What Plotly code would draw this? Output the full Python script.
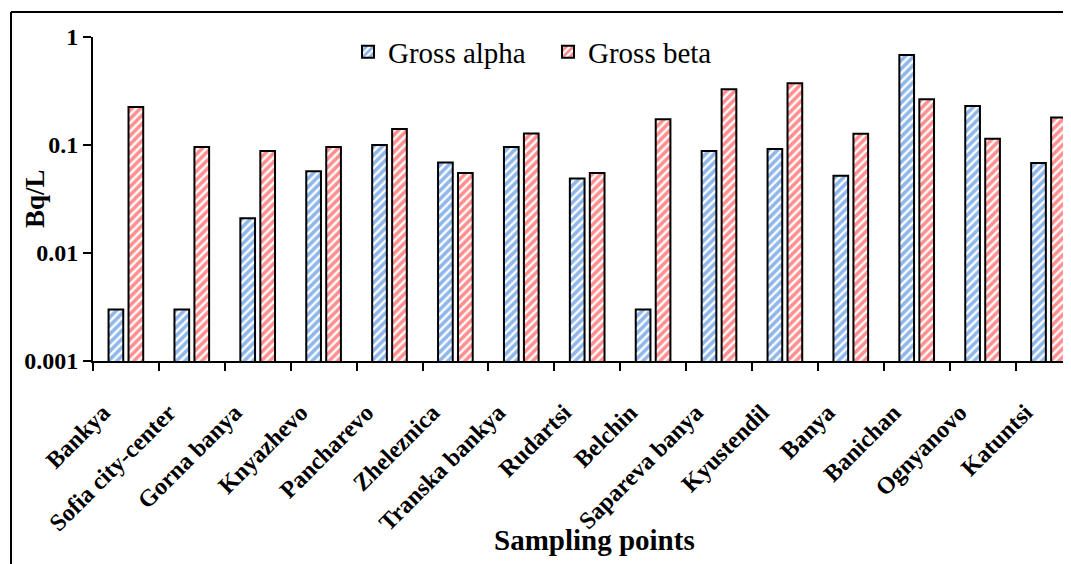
import plotly.graph_objects as go

categories = ["Bankya", "Sofia city-center", "Gorna banya", "Knyazhevo", "Pancharevo",
              "Zheleznica", "Transka bankya", "Rudartsi", "Belchin", "Sapareva banya",
              "Kyustendil", "Banya", "Banichan", "Ognyanovo", "Katuntsi"]
gross_alpha = [0.003, 0.003, 0.021, 0.057, 0.100, 0.069, 0.096, 0.049, 0.003, 0.088,
               0.092, 0.052, 0.68, 0.23, 0.068]
gross_beta = [0.225, 0.096, 0.088, 0.096, 0.141, 0.055, 0.128, 0.055, 0.173, 0.328,
              0.373, 0.127, 0.265, 0.114, 0.180]
y_tickvals = [0.001, 0.01, 0.1, 1]
y_ticktext = ["0.001", "0.01", "0.1", "1"]

FONT = "Liberation Serif, Times New Roman, serif"
OFF = 8  # page body margin offset
W, H = 1071, 564
# screen targets: plot left 93, top 37, bottom 361, right 1071
L = 93 - OFF
T = 37 - OFF
B = H - (361 - OFF)
R = W - (1071 - OFF)
pw, ph = W - L - R, H - T - B

def px_x(x):
    return (x - OFF - L) / pw

def px_y(y):
    return (H - B - (y - OFF)) / ph

fig = go.Figure()
fig.add_trace(go.Bar(
    x=categories, y=gross_alpha, name="Gross alpha",
    width=0.223, offset=-0.264,
    marker=dict(color="white", line=dict(color="black", width=2),
                pattern=dict(shape="/", fgcolor="#1F6FD6", bgcolor="white", size=6, solidity=0.6)),
))
fig.add_trace(go.Bar(
    x=categories, y=gross_beta, name="Gross beta",
    width=0.223, offset=0.039,
    marker=dict(color="white", line=dict(color="black", width=2),
                pattern=dict(shape="/", fgcolor="#FF2020", bgcolor="white", size=6, solidity=0.6)),
))

span = pw / 65.9
fig.update_layout(
    width=W, height=H,
    margin=dict(l=L, r=R, t=T, b=B, autoexpand=False),
    paper_bgcolor="white", plot_bgcolor="white",
    barmode="overlay",
    font=dict(family=FONT, color="black"),
    showlegend=True,
    legend=dict(orientation="h", x=px_x(348), xanchor="left", y=px_y(52), yanchor="middle",
                font=dict(family=FONT, size=29, color="black"),
                bgcolor="rgba(0,0,0,0)", entrywidthmode="pixels", entrywidth=155),
    xaxis=dict(
        range=[-0.5, -0.5 + span], type="category",
        showline=True, linecolor="black", linewidth=2,
        ticks="outside", ticklen=8, tickwidth=2, tickcolor="black",
        tickson="boundaries", tickangle=-45,
        ticklabelstandoff=26, ticklabelshift=-23,
        tickfont=dict(family=FONT, size=24, color="black", weight="bold"),
        showgrid=False, zeroline=False,
    ),
    yaxis=dict(
        type="log", range=[-3, 0],
        showline=True, linecolor="black", linewidth=2,
        ticks="outside", ticklen=8, tickwidth=2, tickcolor="black",
        tickvals=y_tickvals, ticktext=y_ticktext,
        tickfont=dict(family=FONT, size=24, color="black", weight="bold"),
        showgrid=False, zeroline=False,
    ),
    annotations=[
        dict(text="<b>Bq/L</b>", x=px_x(35), y=0.5, xref="paper", yref="paper",
             textangle=-90, showarrow=False, font=dict(family=FONT, size=27, color="black"),
             xanchor="center", yanchor="middle"),
        dict(text="<b>Sampling points</b>", x=px_x(594), y=px_y(540), xref="paper", yref="paper",
             showarrow=False, font=dict(family=FONT, size=29, color="black"),
             xanchor="center", yanchor="middle"),
    ],
    shapes=[
        dict(type="line", xref="paper", yref="paper", x0=px_x(11), x1=px_x(11),
             y0=px_y(12), y1=px_y(580), line=dict(color="black", width=2)),
        dict(type="line", xref="paper", yref="paper", x0=px_x(11), x1=px_x(1090),
             y0=px_y(12), y1=px_y(12), line=dict(color="black", width=2)),
    ],
)

fig.write_html("out.html")
